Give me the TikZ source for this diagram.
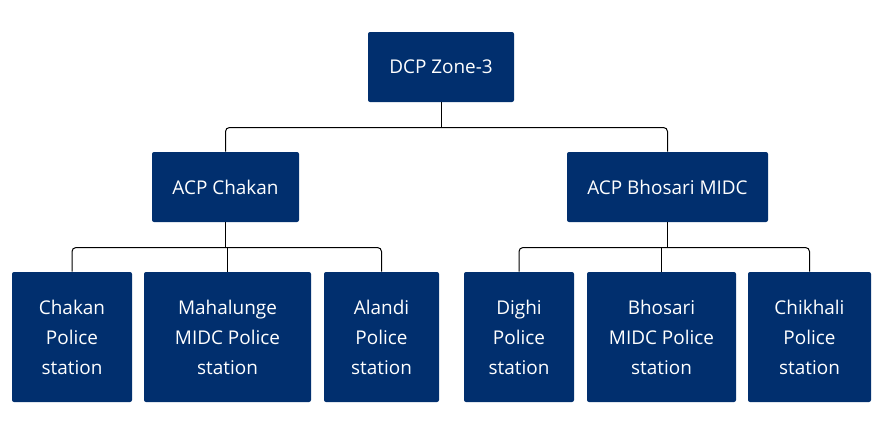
\documentclass[tikz,border=0pt]{standalone}
\usepackage{fontspec}
\setmainfont{Open Sans}
\usepackage{tikz}
\usetikzlibrary{positioning}
\definecolor{navy}{RGB}{1,47,110}
\tikzset{
  unit/.style={fill=navy, text=white, rounded corners=1.5pt, inner sep=0pt,
               align=center, font=\fontsize{14.2}{22.5}\selectfont},
  headbox/.style={unit, minimum height=52.5pt},
  stationbox/.style={unit, minimum height=97.5pt},
  link/.style={draw=black, line width=0.75pt, rounded corners=3pt},
}
\begin{document}
\begin{tikzpicture}[x=0.75pt,y=-0.75pt]
  \useasboundingbox (0,0) rectangle (896,440);
  % ust kademe
  \node[headbox, minimum width=109.5pt] (dcp) at (441,67) {DCP Zone-3};
  % ACP kademesi
  \node[headbox, minimum width=110.25pt] (acpc) at (225.5,187) {ACP Chakan};
  \node[headbox, minimum width=150.75pt] (acpb) at (667.5,187) {ACP Bhosari MIDC};
  % karakollar
  \node[stationbox, minimum width=90pt]     (chakan)    at (72,337)    {Chakan\\Police\\station};
  \node[stationbox, minimum width=125.25pt] (mahalunge) at (227.5,337) {Mahalunge\\MIDC Police\\station};
  \node[stationbox, minimum width=86.25pt]  (alandi)    at (381.5,337) {Alandi\\Police\\station};
  \node[stationbox, minimum width=82.5pt]   (dighi)     at (519,337)   {Dighi\\Police\\station};
  \node[stationbox, minimum width=111.75pt] (bhosari)   at (661.5,337) {Bhosari\\MIDC Police\\station};
  \node[stationbox, minimum width=92.25pt]  (chikhali)  at (809.5,337) {Chikhali\\Police\\station};
  % baglanti hatlari
  \coordinate (busT) at (441,127.5);
  \coordinate (busC) at (225.5,247.5);
  \coordinate (busB) at (667.5,247.5);
  \draw[link] (dcp.south) -- (busT);
  \draw[link] (acpc.north) |- (busT) -| (acpb.north);
  \draw[link] (acpc.south) -- (busC);
  \draw[link] (chakan.north) |- (busC) -| (alandi.north);
  \draw[link] (mahalunge.north) -- (mahalunge.north |- busC);
  \draw[link] (acpb.south) -- (busB);
  \draw[link] (dighi.north) |- (busB) -| (chikhali.north);
  \draw[link] (bhosari.north) -- (bhosari.north |- busB);
\end{tikzpicture}
\end{document}
